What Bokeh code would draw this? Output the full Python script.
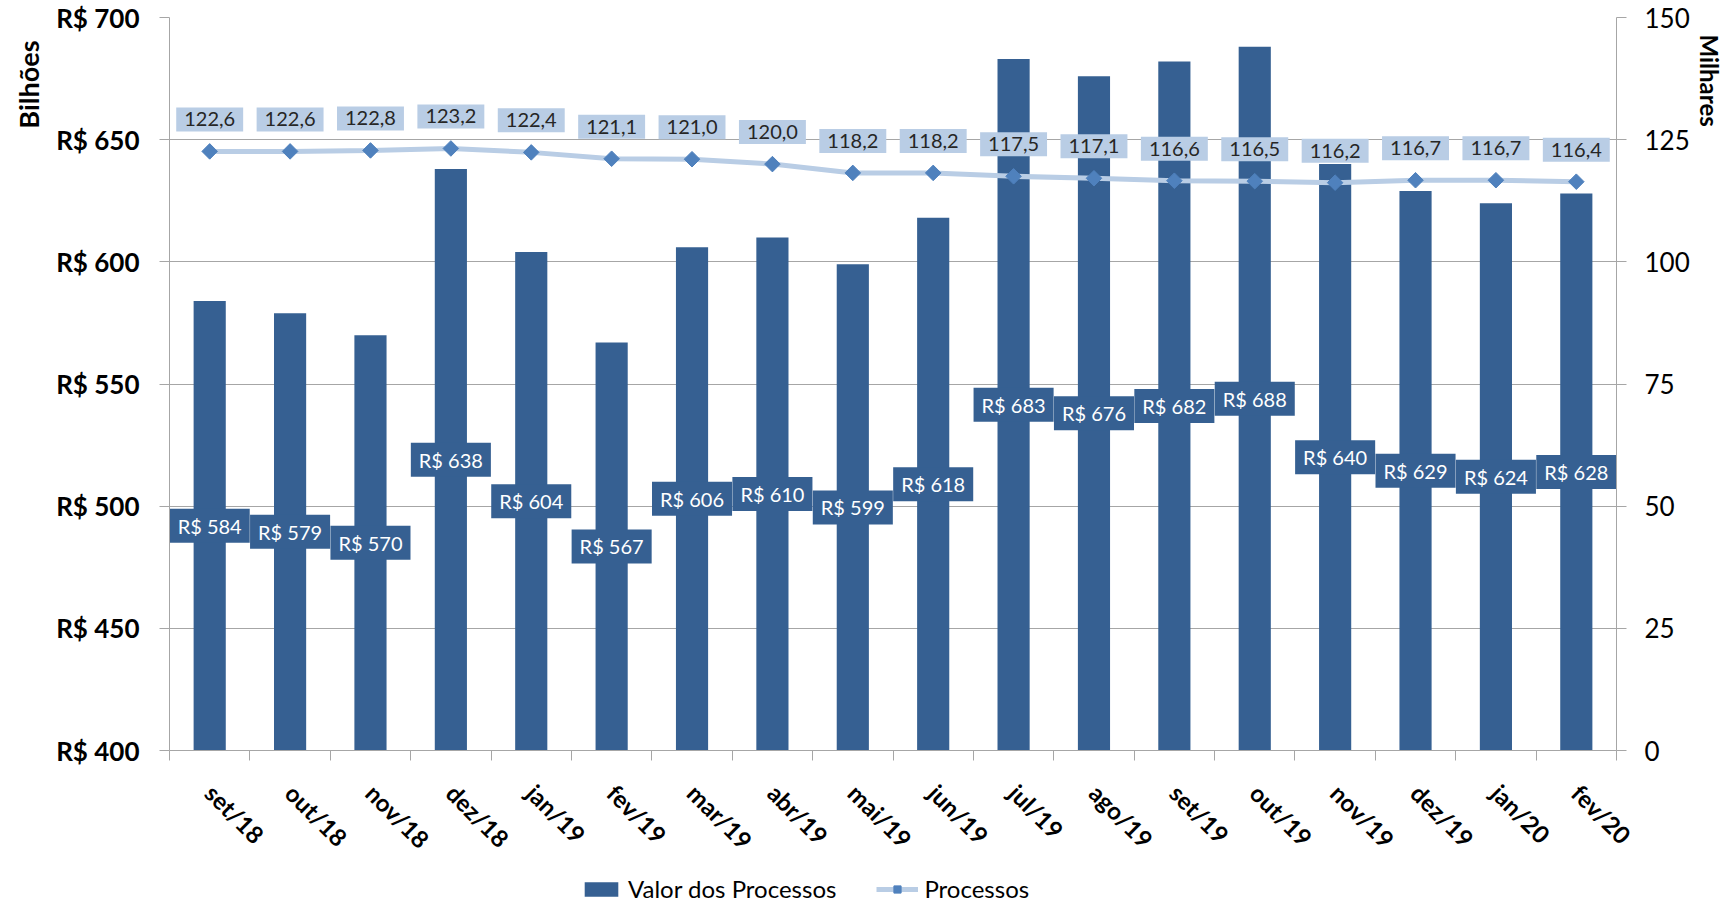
import math
from bokeh.plotting import figure
from bokeh.layouts import column
from bokeh.models import (Range1d, LinearAxis, FixedTicker, PrintfTickFormatter,
                          CustomJSTickFormatter, Legend, LegendItem, Title)
from bokeh.core.properties import value
from bokeh.embed import file_html
from bokeh.resources import INLINE

months = ["set/18", "out/18", "nov/18", "dez/18", "jan/19", "fev/19", "mar/19", "abr/19",
          "mai/19", "jun/19", "jul/19", "ago/19", "set/19", "out/19", "nov/19", "dez/19",
          "jan/20", "fev/20"]
valor = [584, 579, 570, 638, 604, 567, 606, 610, 599, 618, 683, 676, 682, 688, 640, 629, 624, 628]
processos = [122.6, 122.6, 122.8, 123.2, 122.4, 121.1, 121.0, 120.0, 118.2, 118.2, 117.5,
             117.1, 116.6, 116.5, 116.2, 116.7, 116.7, 116.4]
left_ticks = [400, 450, 500, 550, 600, 650, 700]
right_ticks = [0, 25, 50, 75, 100, 125, 150]

FONT = "Lato"
BAR = "#366092"
LINE = "#B9CDE5"
MARK = "#4F81BD"
GRID = "#A6A6A6"

n = len(months)
xs = [i + 0.5 for i in range(n)]

p = figure(frame_width=1447, frame_height=733, x_range=Range1d(0, n), y_range=Range1d(400, 700),
           output_backend="svg", toolbar_location=None,
           min_border_left=163, min_border_right=107, min_border_top=17, min_border_bottom=110)
p.extra_y_ranges = {"right": Range1d(0, 150)}
p.outline_line_color = None
p.background_fill_color = "white"
p.border_fill_color = "white"
p.xgrid.visible = False
p.ygrid.ticker = FixedTicker(ticks=left_ticks)
p.ygrid.grid_line_color = GRID
p.ygrid.grid_line_width = 1

bar_style = dict(width=0.4, fill_color=BAR, line_color=None)
line_style = dict(line_color=LINE, line_width=5)
mark_style = dict(marker="square", angle=math.pi / 4, size=11, fill_color=MARK, line_color=MARK)

p.vbar(x=xs, top=valor, bottom=400, **bar_style)

p.text(x=xs, y=[(400 + v) / 2 for v in valor], text=["R$ %d" % v for v in valor],
       text_align="center", text_baseline="middle", text_color="white",
       text_font=value(FONT), text_font_size="20px",
       background_fill_color=BAR, padding=(8, 5))

p.line(xs, processos, y_range_name="right", **line_style)
p.scatter(xs, processos, y_range_name="right", **mark_style)

p.text(x=xs, y=processos, text=[("%.1f" % v).replace(".", ",") for v in processos],
       y_range_name="right", y_offset=-32, text_align="center", text_baseline="middle",
       text_color="#262626", text_font=value(FONT), text_font_size="20px",
       background_fill_color=LINE, padding=(8, 5))

# x axis
xa = p.xaxis[0]
xa.ticker = FixedTicker(ticks=xs, minor_ticks=list(range(n + 1)))
xa.formatter = CustomJSTickFormatter(args=dict(labels=months),
                                     code="return labels[Math.floor(tick)] || '';")
xa.major_tick_line_color = None
xa.minor_tick_line_color = GRID
xa.minor_tick_in = 0
xa.minor_tick_out = 10
xa.axis_line_color = GRID
xa.major_label_orientation = -math.pi / 4
xa.major_label_standoff = 28
xa.major_label_text_font = FONT
xa.major_label_text_font_style = "bold"
xa.major_label_text_font_size = "24px"
xa.major_label_text_color = "black"

# left axis
ya = p.yaxis[0]
ya.ticker = FixedTicker(ticks=left_ticks)
ya.formatter = PrintfTickFormatter(format="R$ %d")
ya.major_tick_in = 0
ya.major_tick_out = 10
ya.major_tick_line_color = GRID
ya.minor_tick_line_color = None
ya.axis_line_color = GRID
ya.major_label_standoff = 20
ya.major_label_text_font = FONT
ya.major_label_text_font_style = "bold"
ya.major_label_text_font_size = "26px"
ya.major_label_text_color = "black"

ra = LinearAxis(y_range_name="right", ticker=FixedTicker(ticks=right_ticks))
ra.major_tick_in = 0
ra.major_tick_out = 10
ra.major_tick_line_color = GRID
ra.minor_tick_line_color = None
ra.axis_line_color = GRID
ra.major_label_standoff = 18
ra.major_label_text_font = FONT
ra.major_label_text_font_size = "26px"
ra.major_label_text_color = "black"
p.add_layout(ra, "right")

p.add_layout(Title(text="Bilhões", align="right", offset=23, standoff=18,
                   text_font=FONT, text_font_style="bold", text_font_size="27px",
                   text_color="black"), "left")
p.add_layout(Title(text="Milhares", align="left", offset=17, standoff=4,
                   text_font=FONT, text_font_style="bold", text_font_size="24px",
                   text_color="black"), "right")

# legend strip under the chart (its own small figure; its sample glyphs lie far outside its ranges)
lf = figure(width=1717, height=35, x_range=Range1d(1000, 1001), y_range=Range1d(5000, 5001),
            x_axis_type=None, y_axis_type=None, output_backend="svg", toolbar_location=None,
            min_border=0)
lf.outline_line_color = None
lf.background_fill_color = "white"
lf.border_fill_color = "white"
lf.grid.visible = False
lbar = lf.vbar(x=xs[:1], top=valor[:1], bottom=400, **bar_style)
lline = lf.line(xs[:2], processos[:2], **line_style)
lmark = lf.scatter(xs[:1], processos[:1], **mark_style)

legend = Legend(items=[LegendItem(label="Valor dos Processos", renderers=[lbar]),
                       LegendItem(label="Processos", renderers=[lline, lmark])],
                orientation="horizontal", location=(411, 0),
                glyph_width=42, glyph_height=18, spacing=40, label_standoff=6,
                label_width=0, padding=0, margin=0, border_line_color=None,
                background_fill_color=None, background_fill_alpha=0,
                label_text_font=FONT, label_text_font_size="24px", label_text_color="black")
lf.add_layout(legend)

open("out.html", "w").write(file_html(column(p, lf), INLINE))
